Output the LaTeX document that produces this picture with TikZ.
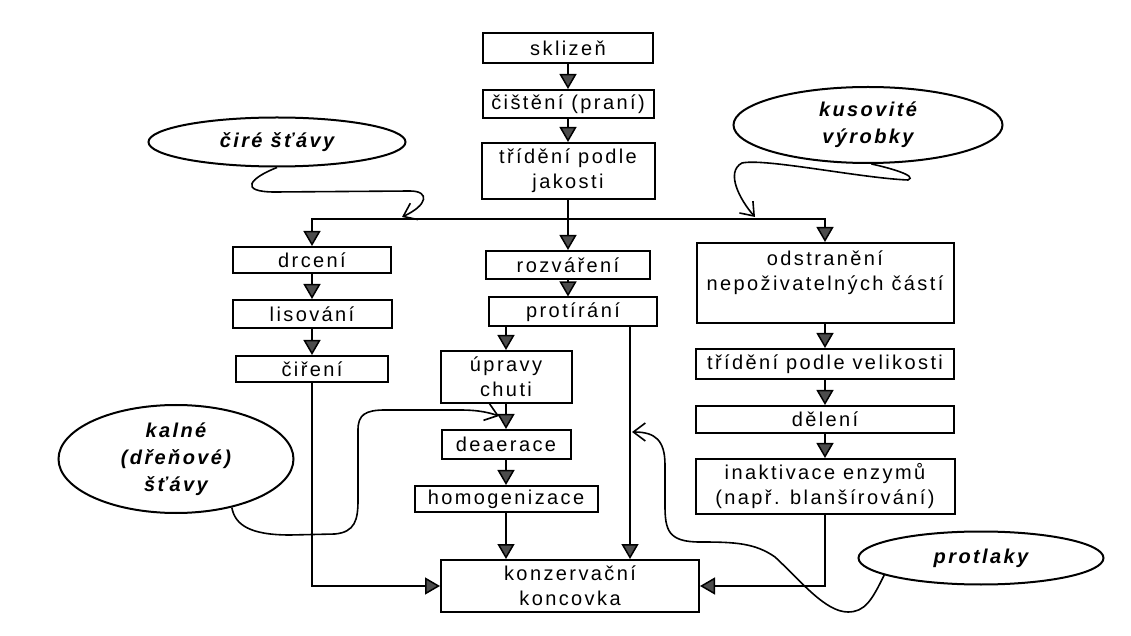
\documentclass[tikz,border=0pt]{standalone}
\usepackage{fontspec}
\setmainfont[LetterSpace=12]{Liberation Sans}
\usetikzlibrary{arrows.meta,positioning,shapes.geometric}

\begin{document}
\begin{tikzpicture}[x=0.5pt,y=-0.5pt,
  box/.style={draw,line width=1pt,align=center,inner sep=0pt,font=\fontsize{10}{12.5}\selectfont},
  bubble/.style={draw,ellipse,line width=1pt,align=center,inner sep=0pt,font=\fontsize{10}{13.5}\selectfont\bfseries\itshape},
  flow/.style={-{Triangle[length=7.5pt,width=8.5pt,fill=black!70]},line width=0.75pt},
  hook/.style={-{Straight Barb[length=6pt,width=9pt]},line width=0.8pt},
  node distance=12.5pt]
\useasboundingbox (0,0) rectangle (1131,636);
% main line
\node[box,minimum width=85pt,minimum height=15pt] (sklizen) at (568,48) {sklizeň};
\node[box,minimum width=85.5pt,minimum height=14pt,below=of sklizen] (cisteni) {čištění (praní)};
\node[box,minimum width=86.5pt,minimum height=28pt,below=11.5pt of cisteni] (trideni) {třídění podle\\jakosti};
\coordinate (split) at (568,219);
% left branch
\node[box,minimum width=79pt,minimum height=13pt] (drceni) at (312,260) {drcení};
\node[box,minimum width=79.5pt,minimum height=14pt,below=of drceni] (lisovani) {lisování};
\node[box,minimum width=76pt,minimum height=13pt,below=13pt of lisovani] (cireni) {čiření};
% middle branch
\node[box,minimum width=82pt,minimum height=14pt,below=25pt of trideni] (rozvareni) {rozváření};
\node[box,minimum width=84pt,minimum height=14.5pt] (protirani) at (573,312) {protírání};
\node[box,minimum width=65.5pt,minimum height=26pt] (upravy) at (506,377) {úpravy\\chuti};
\node[box,minimum width=64.5pt,minimum height=14.5pt,below=of upravy] (deaerace) {deaerace};
\node[box,minimum width=91.5pt,minimum height=13pt,below=of deaerace] (homog) {homogenizace};
\node[box,minimum width=129pt,minimum height=26pt] (konzerv) at (570,586) {konzervační\\koncovka};
% right branch
\node[box,minimum width=128.5pt,minimum height=40pt] (odstran) at (825,283) {odstranění\\nepoživatelných částí\\~};
\node[box,minimum width=129pt,minimum height=15pt,below=12pt of odstran] (velikost) {třídění podle velikosti};
\node[box,minimum width=129pt,minimum height=13.5pt,below=of velikost] (deleni) {dělení};
\node[box,minimum width=129.5pt,minimum height=27.5pt,below=12pt of deleni] (inaktiv) {inaktivace enzymů\\(např. blanšírování)};
% product kinds
\node[bubble,minimum width=128.5pt,minimum height=24.5pt] (cire) at (277,142) {čiré šťávy};
\node[bubble,minimum width=134.5pt,minimum height=38pt] (kusov) at (868,125) {kusovité\\výrobky};
\node[bubble,minimum width=117.5pt,minimum height=54pt] (kalne) at (176,459) {kalné\\(dřeňové)\\šťávy};
\node[bubble,minimum width=122.5pt,minimum height=26.5pt] (protlaky) at (981,558) {protlaky};
\coordinate (cireend) at (402,217);
\coordinate (kusovend) at (755,217);
\coordinate (kalneend) at (499,416);
\coordinate (protlakyend) at (632,432);

\draw[flow] (sklizen) -- (cisteni);
\draw[flow] (cisteni) -- (trideni);
\draw[flow] (trideni) -- (rozvareni);
\draw[flow] (split) -| (drceni.north);
\draw[flow] (split) -| (odstran.north);
\draw[flow] (drceni) -- (lisovani);
\draw[flow] (lisovani) -- (cireni);
\draw[flow] (rozvareni) -- (rozvareni.south |- protirani.north);
\draw[flow] (protirani.south -| upravy.north) -- (upravy.north);
\draw[flow] (upravy) -- (deaerace);
\draw[flow] (deaerace.south) -- (deaerace.south |- homog.north);
\draw[flow] (homog.south) -- (homog.south |- konzerv.north);
\draw[flow] ([xshift=-14pt]protirani.south east) -- ([xshift=-14pt]protirani.south east |- konzerv.north);
\draw[flow] (cireni.south) |- (konzerv.west);
\draw[flow] (odstran) -- (velikost);
\draw[flow] (velikost) -- (deleni);
\draw[flow] (deleni) -- (inaktiv);
\draw[flow] (inaktiv.south) |- (konzerv.east);

\draw[hook] (cire.south) .. controls (250,178) and (238,192) .. (275,192) -- (410,191) .. controls (430,191) and (428,205) .. (cireend);
\draw[hook] (kusov.-85) .. controls (890,168) and (918,176) .. (908,180) .. controls (860,178) and (765,158) .. (742,163) .. controls (725,172) and (740,200) .. (kusovend);
\draw[hook] (kalne.-41) .. controls (235,525) and (250,535) .. (290,535) -- (335,534) .. controls (355,532) and (358,520) .. (358,500) -- (358,430) .. controls (358,415) and (365,410) .. (385,410) -- (460,410) .. controls (480,410) and (490,413) .. (kalneend);
\draw[hook] (protlaky.-170) .. controls (872,600) and (865,612) .. (848,612) .. controls (825,612) and (800,580) .. (775,557) .. controls (755,543) and (735,542) .. (700,542) .. controls (668,542) and (665,530) .. (665,505) -- (665,465) .. controls (665,440) and (655,432) .. (protlakyend);
\end{tikzpicture}
\end{document}
